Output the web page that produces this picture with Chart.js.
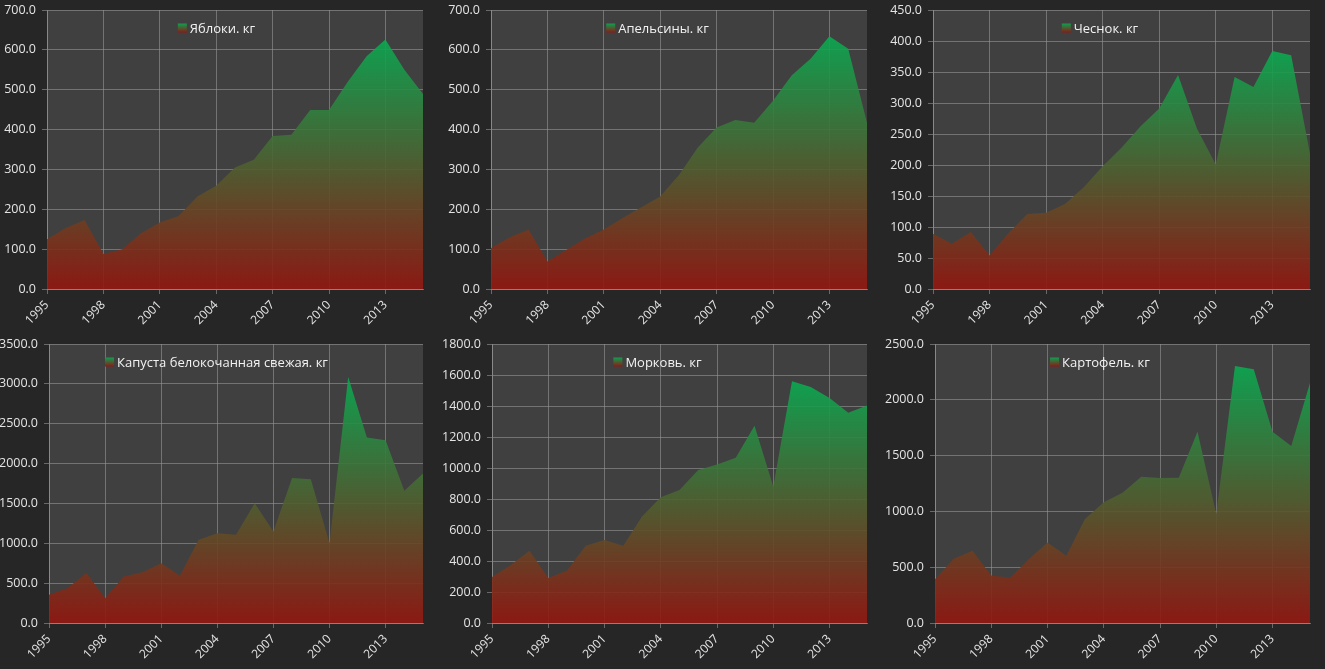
<!DOCTYPE html>
<html>
<head>
<meta charset="utf-8">
<script src="https://cdn.jsdelivr.net/npm/chart.js@4.4.1/dist/chart.umd.min.js"></script>
<style>
  body { margin: 0; background: #262626; width: 1325px; height: 669px; overflow: hidden; position: relative; }
  .cell { position: absolute; }
</style>
</head>
<body>
<div class="cell" style="left:0;top:0;width:441px;height:334px"><canvas id="c-apples"></canvas></div>
<div class="cell" style="left:441px;top:0;width:441px;height:334px"><canvas id="c-oranges"></canvas></div>
<div class="cell" style="left:883px;top:0;width:442px;height:334px"><canvas id="c-garlic"></canvas></div>
<div class="cell" style="left:0;top:334px;width:441px;height:335px"><canvas id="c-cabbage"></canvas></div>
<div class="cell" style="left:441px;top:334px;width:441px;height:335px"><canvas id="c-carrot"></canvas></div>
<div class="cell" style="left:883px;top:334px;width:442px;height:335px"><canvas id="c-potato"></canvas></div>
<script>
  const years = [1995, 1996, 1997, 1998, 1999, 2000, 2001, 2002, 2003, 2004, 2005,
    2006, 2007, 2008, 2009, 2010, 2011, 2012, 2013, 2014, 2015];

  const apples = [125, 153, 173, 88, 100, 140, 167, 183, 232, 259, 305,
    324, 384, 387, 449, 449, 520, 584, 626, 551, 489];
  const oranges = [103, 130, 149, 69, 98, 127, 149, 178, 205, 232, 286,
    355, 405, 424, 417, 472, 536, 578, 634, 603, 417];
  const garlic = [89, 73, 92, 54, 90, 121, 123, 137, 164, 198, 228,
    262, 291, 345, 259, 201, 342, 326, 384, 377, 218];
  const cabbage = [355, 438, 626, 309, 584, 638, 751, 592, 1043, 1126, 1106,
    1502, 1147, 1819, 1802, 1001, 3087, 2328, 2294, 1660, 1877];
  const carrot = [296, 375, 466, 290, 339, 498, 536, 498, 687, 811, 858,
    987, 1023, 1066, 1272, 880, 1560, 1523, 1452, 1356, 1403];
  const potato = [393, 575, 647, 426, 405, 572, 721, 602, 933, 1082, 1168,
    1311, 1299, 1302, 1713, 977, 2303, 2273, 1713, 1585, 2151];

  const labelApples = "Яблоки. кг";
  const labelOranges = "Апельсины. кг";
  const labelGarlic = "Чеснок. кг";
  const labelCabbage = "Капуста белокочанная свежая. кг";
  const labelCarrot = "Морковь. кг";
  const labelPotato = "Картофель. кг";

  const yMaxApples = 700, yStepApples = 100;
  const yMaxOranges = 700, yStepOranges = 100;
  const yMaxGarlic = 450, yStepGarlic = 50;
  const yMaxCabbage = 3500, yStepCabbage = 500;
  const yMaxCarrot = 1800, yStepCarrot = 200;
  const yMaxPotato = 2500, yStepPotato = 500;

  const green = "rgba(10, 170, 81, 0.9)";
  const red = "rgba(147, 21, 15, 0.9)";
  const plotBg = "#404040";
  const gridColor = "rgba(150, 150, 150, 0.6)";
  const tickColor = "#e4e4e4";
  const fontFamily = "'Open Sans', 'Noto Sans', sans-serif";

  const plotBackground = {
    id: "plotBackground",
    beforeDraw(chart) {
      const a = chart.chartArea;
      const ctx = chart.ctx;
      ctx.save();
      ctx.fillStyle = plotBg;
      ctx.fillRect(a.left, a.top, a.right - a.left, a.bottom - a.top);
      ctx.restore();
    }
  };

  const innerLegend = {
    id: "innerLegend",
    afterDatasetsDraw(chart) {
      const a = chart.chartArea;
      const ctx = chart.ctx;
      const label = chart.data.datasets[0].label;
      ctx.save();
      ctx.font = "13px " + fontFamily;
      const tw = ctx.measureText(label).width;
      const box = 9, gap = 3;
      const x0 = chart.width / 2 - 4 - (box + gap + tw) / 2;
      const y = a.top + 18;
      const g = ctx.createLinearGradient(0, y - box / 2, 0, y + box / 2);
      g.addColorStop(0, "#0f9f4f");
      g.addColorStop(1, "#8b1914");
      ctx.fillStyle = g;
      ctx.fillRect(x0, y - box / 2, box, box);
      ctx.fillStyle = "#f2f2f2";
      ctx.textBaseline = "middle";
      ctx.fillText(label, x0 + box + gap, y + 1);
      ctx.restore();
    }
  };

  function areaFill(values) {
    return function (context) {
      const chart = context.chart;
      const a = chart.chartArea;
      if (!a) return red;
      const top = chart.scales.y.getPixelForValue(Math.max(...values));
      const g = chart.ctx.createLinearGradient(0, a.bottom, 0, top);
      g.addColorStop(0, red);
      g.addColorStop(1, green);
      return g;
    };
  }

  function makeChart(id, label, values, yMax, yStep, yWidth, xHeight, padRight, padTop) {
    const canvas = document.getElementById(id);
    return new Chart(canvas, {
      type: "line",
      data: {
        datasets: [{
          label: label,
          data: years.map((yr, i) => ({ x: yr, y: values[i] })),
          fill: "origin",
          backgroundColor: areaFill(values),
          borderColor: "transparent",
          borderWidth: 0,
          pointRadius: 0,
          tension: 0
        }]
      },
      options: {
        responsive: true,
        maintainAspectRatio: false,
        animation: false,
        layout: { padding: { top: padTop, right: padRight, left: 0, bottom: 0 } },
        plugins: { legend: { display: false }, tooltip: { enabled: false } },
        scales: {
          x: {
            type: "linear",
            min: years[0],
            max: years[years.length - 1],
            grid: { color: gridColor, tickLength: 5 },
            border: { color: gridColor },
            afterFit(scale) {
              scale.height = xHeight;
              scale.paddingLeft = 0;
              scale.paddingRight = 0;
            },
            ticks: {
              stepSize: 3,
              includeBounds: false,
              autoSkip: false,
              maxRotation: 45,
              minRotation: 45,
              padding: 4,
              color: tickColor,
              font: { family: fontFamily, size: 12 },
              callback: (v) => String(v)
            }
          },
          y: {
            min: 0,
            max: yMax,
            grid: { color: gridColor, tickLength: 5 },
            border: { color: gridColor },
            afterFit(scale) {
              scale.width = yWidth;
              scale.paddingTop = 0;
              scale.paddingBottom = 0;
            },
            ticks: {
              stepSize: yStep,
              padding: 6,
              color: tickColor,
              font: { family: fontFamily, size: 12.5 },
              callback: (v) => Number(v).toFixed(1)
            }
          }
        }
      },
      plugins: [plotBackground, innerLegend]
    });
  }

  makeChart("c-apples", labelApples, apples, yMaxApples, yStepApples, 47, 45, 18, 10);
  makeChart("c-oranges", labelOranges, oranges, yMaxOranges, yStepOranges, 50, 45, 15, 10);
  makeChart("c-garlic", labelGarlic, garlic, yMaxGarlic, yStepGarlic, 50, 45, 15, 10);
  makeChart("c-cabbage", labelCabbage, cabbage, yMaxCabbage, yStepCabbage, 49, 46, 18, 10);
  makeChart("c-carrot", labelCarrot, carrot, yMaxCarrot, yStepCarrot, 51, 46, 15, 10);
  makeChart("c-potato", labelPotato, potato, yMaxPotato, yStepPotato, 52, 46, 15, 10);
</script>
</body>
</html>
